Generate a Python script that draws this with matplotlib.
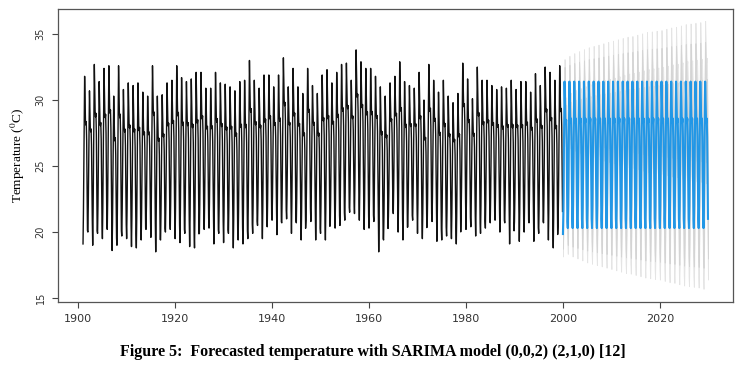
import numpy as np
import matplotlib
matplotlib.use("Agg")
import matplotlib.pyplot as plt

# ---------------- data ----------------
hist_years = list(range(1901, 2000))            # 1901 .. 1999
# annual peak (hottest month) temperatures, degC
annual_max = [31.8, 30.7, 32.7, 31.4, 32.4, 32.6, 30.3, 32.6, 30.8, 31.3,
              31.1, 31.3, 30.6, 30.3, 32.6, 30.3, 30.4, 31.3, 31.5, 32.6,
              31.7, 31.4, 31.6, 32.1, 32.1, 30.9, 30.9, 32.1, 31.3, 31.2,
              31.0, 30.7, 31.4, 31.5, 33.0, 31.5, 30.9, 31.9, 31.9, 31.0,
              31.9, 33.2, 31.0, 32.4, 31.0, 30.5, 32.4, 31.1, 30.5, 31.9,
              32.3, 31.3, 32.1, 32.7, 32.8, 31.5, 33.8, 32.9, 32.4, 32.4,
              31.8, 31.0, 30.3, 31.3, 31.8, 32.9, 31.4, 31.1, 30.9, 32.1,
              30.0, 32.7, 31.5, 30.6, 31.5, 30.3, 29.8, 30.5, 32.8, 31.6,
              30.1, 32.5, 31.5, 31.5, 31.1, 30.8, 31.0, 30.9, 31.5, 30.8,
              31.4, 31.4, 30.6, 32.0, 31.1, 32.5, 32.1, 31.5, 32.6]
# annual trough (coolest month) temperatures, degC
annual_min = [19.1, 20.0, 19.0, 19.9, 19.5, 20.2, 18.6, 19.0, 19.7, 19.5,
              18.9, 18.8, 19.4, 20.2, 19.6, 18.5, 19.4, 20.0, 20.2, 19.5,
              19.2, 19.9, 18.9, 18.8, 19.9, 20.2, 20.3, 19.1, 19.9, 19.2,
              19.9, 18.8, 19.4, 19.1, 19.5, 19.9, 20.5, 19.5, 20.4, 20.9,
              19.8, 20.7, 21.0, 19.9, 20.7, 19.4, 20.9, 20.8, 19.4, 19.9,
              19.4, 20.5, 20.3, 20.5, 20.9, 21.5, 21.4, 20.9, 20.2, 20.3,
              20.8, 18.5, 19.4, 21.2, 21.4, 20.0, 19.4, 20.4, 20.9, 19.9,
              19.5, 20.4, 20.8, 19.3, 19.4, 19.7, 19.5, 19.1, 21.4, 20.2,
              20.4, 19.7, 19.9, 20.3, 20.7, 20.9, 20.0, 20.7, 19.1, 20.8,
              19.3, 20.0, 20.7, 19.3, 19.9, 20.7, 19.4, 18.8, 20.6]
# typical position of each calendar month between the annual trough (0) and peak (1)
month_shape = [0.00, 0.18, 0.48, 0.80, 1.00, 0.85, 0.74, 0.71, 0.73, 0.62, 0.32, 0.08]

fc_years = list(range(2000, 2030))              # forecast horizon 2000 .. 2029
fc_first_year = [19.85, 21.6, 25.0, 28.6, 31.4, 30.1, 28.5, 28.2, 28.5, 27.0, 23.6, 20.8]
fc_season = [20.3, 22.0, 25.3, 28.8, 31.4, 30.2, 28.7, 28.3, 28.6, 27.2, 23.8, 21.0]
# half-width of the 95% prediction interval for each forecast year, degC
pi95_half = [1.70, 1.95, 2.15, 2.30, 2.45, 2.60, 2.70, 2.80, 2.90, 3.00,
             3.10, 3.20, 3.30, 3.40, 3.45, 3.55, 3.65, 3.75, 3.80, 3.85,
             3.90, 4.00, 4.10, 4.15, 4.25, 4.35, 4.40, 4.45, 4.50, 4.60]

y_ticks = [15, 20, 25, 30, 35]
x_ticks = [1900, 1920, 1940, 1960, 1980, 2000, 2020]
ylabel = "Temperature ($^{\\mathrm{0}}$C)"
caption = "Figure 5:  Forecasted temperature with SARIMA model (0,0,2) (2,1,0) [12]"

# ---------------- build monthly series ----------------
hist_t, hist_v = [], []
for i, yr in enumerate(hist_years):
    for m in range(12):
        hist_t.append(yr + m / 12)
        hist_v.append(annual_min[i] + month_shape[m] * (annual_max[i] - annual_min[i]))

fc_t, fc_v, fc_h = [], [], []
for i, yr in enumerate(fc_years):
    pattern = fc_first_year if i == 0 else fc_season
    for m in range(12):
        fc_t.append(yr + m / 12)
        fc_v.append(pattern[m])
        fc_h.append(pi95_half[i])
fc_t = np.array(fc_t); fc_v = np.array(fc_v); fc_h = np.array(fc_h)
h80 = fc_h * (1.2816 / 1.96)

# ---------------- plot ----------------
plt.rcParams["mathtext.fontset"] = "stix"
fig = plt.figure(figsize=(7.46, 3.72), dpi=100)
ax = fig.add_axes([58 / 746, 1 - 302 / 372, (733 - 58) / 746, (302 - 9) / 372])

ax.fill_between(fc_t, fc_v - fc_h, fc_v + fc_h, color="#e4e4e4", lw=0.6, edgecolor="#e4e4e4")
ax.fill_between(fc_t, fc_v - h80, fc_v + h80, color="#d4d4d4", lw=0.6, edgecolor="#d4d4d4")
ax.plot(hist_t, hist_v, color="#111111", lw=1.0)
ax.plot(fc_t, fc_v, color="#2297E6", lw=1.5)

ax.set_xlim(1895.84, 2035.08)
ax.set_ylim(14.7, 36.9)
ax.set_xticks(x_ticks)
ax.set_yticks(y_ticks)
ax.tick_params(axis="x", length=4, width=0.8, color="#444444", labelsize=8,
               labelcolor="#333333", pad=5)
ax.tick_params(axis="y", length=4, width=0.8, color="#444444", labelsize=7,
               labelcolor="#333333", pad=5)
for lab in ax.get_yticklabels():
    lab.set_rotation(90)
    lab.set_va("center")
for s in ax.spines.values():
    s.set_color("#555555")
    s.set_linewidth(0.9)

ax.set_ylabel(ylabel, family="Liberation Serif", fontsize=9.5, labelpad=6)

fig.text(0.50, 1 - 352 / 372, caption, ha="center", va="center",
         family="Liberation Serif", fontweight="bold", fontsize=11.5)

fig.savefig("out.png", dpi=100)
